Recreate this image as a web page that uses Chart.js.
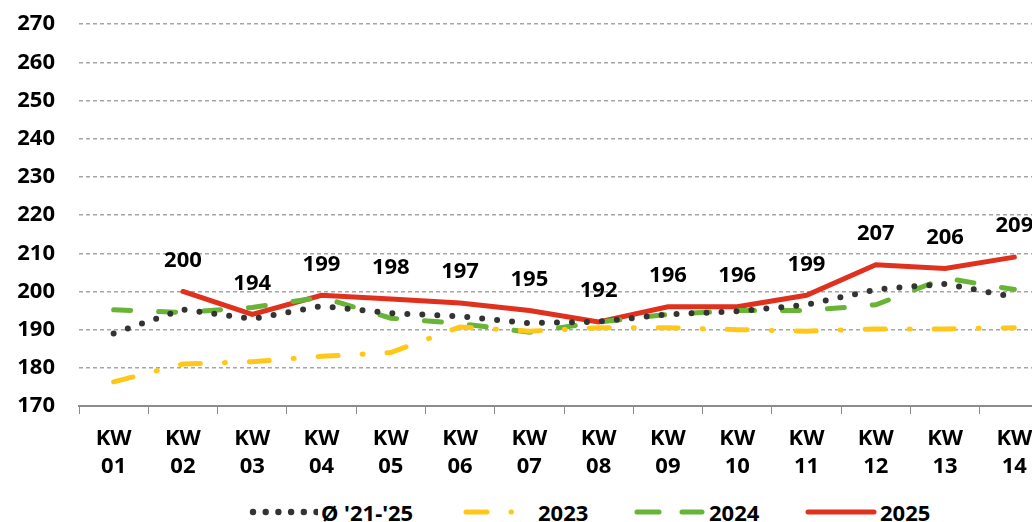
<!DOCTYPE html>
<html>
<head>
<meta charset="utf-8">
<script src="https://cdn.jsdelivr.net/npm/chart.js@4.4.1/dist/chart.umd.min.js"></script>
<style>
  html, body { margin: 0; padding: 0; background: #fff; overflow: hidden; }
  #wrap { position: relative; width: 1052px; height: 522px; }
  #chartBox { position: absolute; left: 0; top: -13px; width: 1052px; height: 505px; }
  #legend {
    position: absolute; top: 499px; left: 0; width: 1032px; height: 26px;
    font-family: "Noto Sans", sans-serif; font-weight: bold; font-size: 22px; color: #000;
  }
  .item { position: absolute; top: 0; display: flex; align-items: center; gap: 3px; line-height: 26px; white-space: nowrap; }
</style>
</head>
<body>
<div id="wrap">
  <div id="chartBox"><canvas id="priceChart"></canvas></div>
  <div id="legend"></div>
</div>
<script>
const weeks = ['01', '02', '03', '04', '05', '06', '07', '08', '09', '10', '11', '12', '13', '14'];
const avgValues = [189, 195.3, 192.8, 196.2, 194.3, 193.5, 191.7, 192.1, 194, 194.8, 196.5, 200.5, 202, 198.5];
const values2023 = [176.3, 181, 181.6, 183, 184, 190.7, 189.6, 190.5, 190.5, 190, 189.6, 190.2, 190.2, 190.5];
const values2024 = [195.2, 194.5, 195.8, 198.5, 193, 191.6, 189.3, 192, 194, 195, 195, 196.5, 203.5, 200.5];
const values2025 = [null, 200, 194, 199, 198, 197, 195, 192, 196, 196, 199, 207, 206, 209];
const yTicks = [170, 180, 190, 200, 210, 220, 230, 240, 250, 260, 270];

const labels = weeks.map(w => ['KW', w]);
const fontFamily = '"Noto Sans", sans-serif';

// numbers above the 2025 line
const valueLabels = {
    id: 'valueLabels',
    afterDatasetsDraw(chart) {
        const ctx = chart.ctx;
        const meta = chart.getDatasetMeta(3);
        ctx.save();
        ctx.font = 'bold 22px ' + fontFamily;
        ctx.fillStyle = '#000';
        ctx.textAlign = 'center';
        ctx.textBaseline = 'middle';
        meta.data.forEach((pt, i) => {
            const v = values2025[i];
            if (v === null) return;
            ctx.fillText(String(v), pt.x, pt.y - 31);
        });
        ctx.restore();
    }
};

const ctx = document.getElementById('priceChart').getContext('2d');
new Chart(ctx, {
    type: 'line',
    data: {
        labels: labels,
        datasets: [
            {
                label: "Ø '21-'25",
                data: avgValues,
                borderColor: '#333333',
                borderWidth: 6,
                borderDash: [0, 15],
                borderCapStyle: 'round',
                pointRadius: 0,
                tension: 0
            },
            {
                label: '2023',
                data: values2023,
                borderColor: '#ffc819',
                borderWidth: 5,
                borderDash: [20, 24, 1, 24],
                borderCapStyle: 'round',
                pointRadius: 0,
                tension: 0
            },
            {
                label: '2024',
                data: values2024,
                borderColor: '#67b437',
                borderWidth: 5,
                borderDash: [17, 28],
                borderCapStyle: 'round',
                pointRadius: 0,
                tension: 0
            },
            {
                label: '2025',
                data: values2025,
                borderColor: '#e0301e',
                borderWidth: 5,
                borderCapStyle: 'round',
                pointRadius: 0,
                tension: 0
            }
        ]
    },
    options: {
        responsive: true,
        maintainAspectRatio: false,
        animation: false,
        layout: { padding: { top: 0, right: 3, left: 0, bottom: 0 } },
        plugins: {
            legend: { display: false },
            tooltip: { enabled: false }
        },
        scales: {
            x: {
                offset: true,
                afterFit(scale) { scale.height = 86; },
                grid: {
                    offset: true,
                    drawOnChartArea: false,
                    color: '#8c8c8c',
                    tickLength: 8
                },
                border: { color: '#8c8c8c', width: 2 },
                ticks: {
                    color: '#000',
                    font: { family: fontFamily, size: 22, weight: 'bold', lineHeight: 1.25 },
                    padding: 11,
                    maxRotation: 0,
                    autoSkip: false
                }
            },
            y: {
                min: 170,
                max: 270,
                afterBuildTicks(scale) {
                    scale.ticks = yTicks.map(v => ({ value: v }));
                },
                afterFit(scale) { scale.width = 79; },
                grid: {
                    color: '#a6a6a6',
                    lineWidth: 1.5,
                    drawTicks: false
                },
                border: { display: false, dash: [4, 3] },
                ticks: {
                    color: '#000',
                    font: { family: fontFamily, size: 22, weight: 'bold' },
                    padding: 24
                }
            }
        }
    },
    plugins: [valueLabels, {
        id: 'dashGrid',
        beforeDraw(chart) {
            chart.options.scales.y.grid.borderDash = [4, 3];
        }
    }]
});

// legend built from the dataset styles
function legendSample(kind) {
    const c = document.createElement('canvas');
    c.width = kind === 'avg' ? 70 : 74;
    c.height = 12;
    const g = c.getContext('2d');
    g.lineCap = 'round';
    if (kind === 'avg') {
        g.fillStyle = '#333333';
        for (let i = 0; i < 6; i++) {
            g.beginPath();
            g.arc(5 + i * 12.7, 6, 3.2, 0, Math.PI * 2);
            g.fill();
        }
        return c;
    }
    g.beginPath();
    g.lineWidth = 5;
    if (kind === '2023') {
        g.strokeStyle = '#ffc819';
        g.moveTo(5, 6); g.lineTo(26, 6);
        g.moveTo(50, 6); g.lineTo(50.5, 6);
    } else if (kind === '2024') {
        g.strokeStyle = '#67b437';
        g.moveTo(5, 6); g.lineTo(27, 6);
        g.moveTo(50, 6); g.lineTo(70, 6);
    } else {
        g.strokeStyle = '#e0301e';
        g.moveTo(5, 6); g.lineTo(71, 6);
    }
    g.stroke();
    return c;
}

const legendItems = [["avg", "Ø '21-'25", 248], ['2023', '2023', 461], ['2024', '2024', 632], ['2025', '2025', 803]];
const legendEl = document.getElementById('legend');
legendItems.forEach(([kind, text, left]) => {
    const div = document.createElement('div');
    div.className = 'item';
    div.style.left = left + 'px';
    div.appendChild(legendSample(kind));
    const span = document.createElement('span');
    span.textContent = text;
    div.appendChild(span);
    legendEl.appendChild(div);
});
</script>
</body>
</html>
